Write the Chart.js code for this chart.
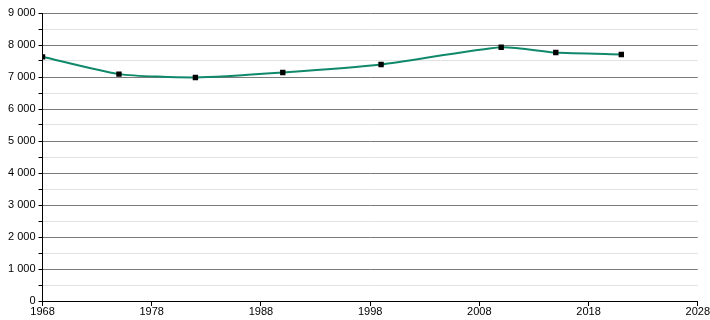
<!DOCTYPE html>
<html>
<head>
<meta charset="utf-8">
<script src="https://cdn.jsdelivr.net/npm/chart.js@4"></script>
<style>
  html, body { margin: 0; padding: 0; background: #fff; }
  #wrap { width: 710px; height: 320px; }
</style>
</head>
<body>
<div id="wrap"><canvas id="myChart"></canvas></div>
<script>
// data
const years = [1968, 1975, 1982, 1990, 1999, 2010, 2015, 2021];
const values = [7630, 7090, 6985, 7140, 7390, 7930, 7765, 7705];

const xTicks = [1968, 1978, 1988, 1998, 2008, 2018, 2028];
const yMax = 9000;

function fmt(v) {
  return String(v).replace(/\B(?=(\d{3})+(?!\d))/g, ' ');
}

const points = years.map(function (y, i) { return { x: y, y: values[i] }; });

Chart.defaults.font.family = 'Liberation Sans, Arial, sans-serif';
Chart.defaults.font.size = 11;
Chart.defaults.color = '#000';

var ctx = document.getElementById('myChart').getContext('2d');
var myChart = new Chart(ctx, {
  type: 'line',
  data: {
    datasets: [{
      data: points,
      borderColor: '#10896b',
      borderWidth: 2,
      tension: 0.2,
      pointStyle: 'rect',
      pointRadius: 3.8,
      pointBackgroundColor: '#000',
      pointBorderColor: '#000',
      pointBorderWidth: 0,
      fill: false
    }]
  },
  options: {
    responsive: true,
    maintainAspectRatio: false,
    animation: false,
    layout: { padding: { top: 13, right: 0, left: 5, bottom: 3 } },
    plugins: {
      legend: { display: false },
      tooltip: { enabled: false }
    },
    scales: {
      x: {
        type: 'linear',
        min: xTicks[0],
        max: xTicks[xTicks.length - 1],
        afterBuildTicks: function (axis) {
          axis.ticks = xTicks.map(function (v) { return { value: v }; });
        },
        ticks: {
          callback: function (v) { return String(v); },
          maxRotation: 0,
          padding: 0,
          font: { lineHeight: 1 }
        },
        border: { color: '#000', width: 1 },
        grid: {
          drawOnChartArea: false,
          tickColor: '#000',
          tickLength: 5
        }
      },
      y: {
        min: 0,
        max: yMax,
        ticks: {
          stepSize: 500,
          autoSkip: false,
          padding: 3,
          callback: function (v) { return v % 1000 === 0 ? fmt(v) : ''; }
        },
        border: { color: '#000', width: 1 },
        grid: {
          color: function (c) {
            if (c.tick.value === 0) return 'rgba(0,0,0,0)';
            return c.tick.value % 1000 === 0 ? '#7a7a7a' : '#e2e2e2';
          },
          tickColor: '#000',
          tickLength: 4
        }
      }
    }
  }
});
</script>
</body>
</html>
